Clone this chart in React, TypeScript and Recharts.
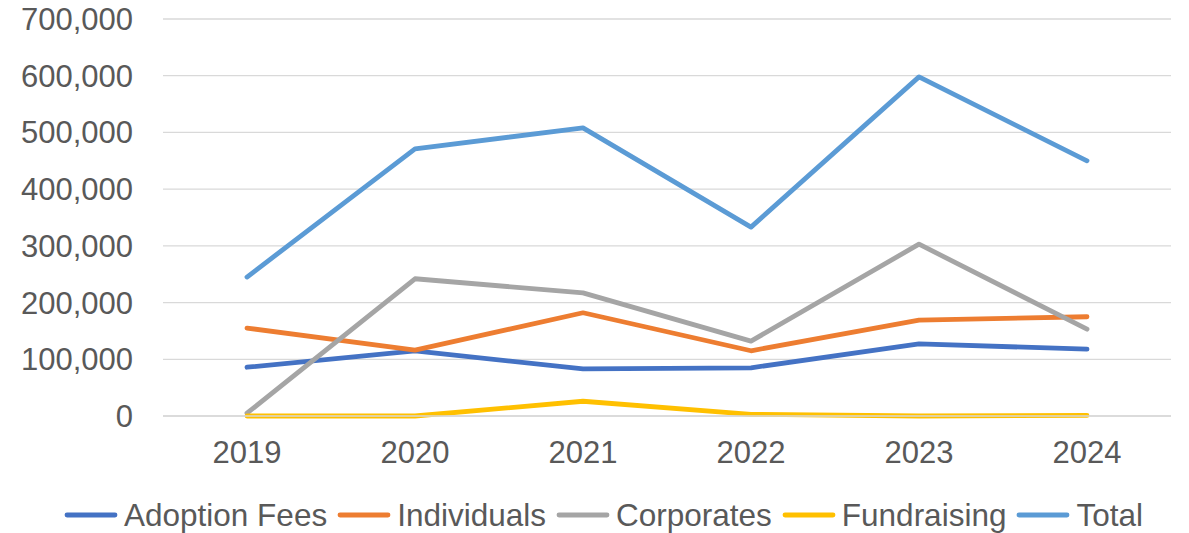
import { LineChart, Line, XAxis, YAxis, CartesianGrid, Legend } from 'recharts';

const YEARS = ['2019', '2020', '2021', '2022', '2023', '2024'];
const ADOPTION_FEES = [86000, 115000, 83000, 85000, 127000, 118000];
const INDIVIDUALS = [155000, 116000, 182000, 115000, 169000, 175000];
const CORPORATES = [5000, 242000, 217000, 132000, 303000, 153000];
const FUNDRAISING = [0, 0, 26000, 3000, 0, 1000];
const TOTAL = [245000, 471000, 508000, 333000, 598000, 450000];
const Y_TICKS = [0, 100000, 200000, 300000, 400000, 500000, 600000, 700000];

const SERIES = [
  { key: 'Adoption Fees', values: ADOPTION_FEES, color: '#4472C4' },
  { key: 'Individuals', values: INDIVIDUALS, color: '#ED7D31' },
  { key: 'Corporates', values: CORPORATES, color: '#A5A5A5' },
  { key: 'Fundraising', values: FUNDRAISING, color: '#FFC000' },
  { key: 'Total', values: TOTAL, color: '#5B9BD5' },
];

const data = YEARS.map((year, i) => {
  const row: Record<string, string | number> = { year };
  SERIES.forEach(s => {
    row[s.key] = s.values[i];
  });
  return row;
});

const FONT = '"Liberation Sans", Arial, sans-serif';
const TEXT = '#595959';

function LegendContent() {
  return (
    <div
      style={{
        height: 44,
        boxSizing: 'border-box',
        paddingTop: 8,
        display: 'flex',
        justifyContent: 'center',
        alignItems: 'center',
        fontFamily: FONT,
        fontSize: 31.5,
        color: TEXT,
        marginLeft: 46,
      }}
    >
      {SERIES.map(s => (
        <div key={s.key} style={{ display: 'flex', alignItems: 'center', marginRight: 10 }}>
          <svg width={54} height={10} style={{ marginRight: 6 }}>
            <line x1={3} y1={5} x2={51} y2={5} stroke={s.color} strokeWidth={4.8} strokeLinecap="round" />
          </svg>
          <span>{s.key}</span>
        </div>
      ))}
    </div>
  );
}

export default function App() {
  return (
    <div style={{ position: 'absolute', left: 0, top: 0, background: '#fff' }}>
      <LineChart width={1189} height={533} data={data} margin={{ top: 19, right: 18, left: 0, bottom: 0 }}>
        <CartesianGrid vertical={false} stroke="#D9D9D9" strokeWidth={1.3} />
        <XAxis
          dataKey="year"
          height={73}
          padding={{ left: 84, right: 84 }}
          axisLine={{ stroke: '#D9D9D9', strokeWidth: 1.3 }}
          tickLine={false}
          tickSize={0}
          tickMargin={25}
          tick={{ fill: TEXT, fontSize: 31, fontFamily: FONT }}
        />
        <YAxis
          width={163}
          domain={[0, 700000]}
          ticks={Y_TICKS}
          axisLine={false}
          tickLine={false}
          tickSize={0}
          tickMargin={30}
          tickFormatter={(v: number) => v.toLocaleString('en-US')}
          tick={{ fill: TEXT, fontSize: 31, fontFamily: FONT }}
        />
        <Legend verticalAlign="bottom" content={<LegendContent />} />
        {SERIES.map(s => (
          <Line
            key={s.key}
            type="linear"
            dataKey={s.key}
            stroke={s.color}
            strokeWidth={4.8}
            strokeLinecap="round"
            strokeLinejoin="round"
            dot={false}
            activeDot={false}
            isAnimationActive={false}
          />
        ))}
      </LineChart>
    </div>
  );
}
